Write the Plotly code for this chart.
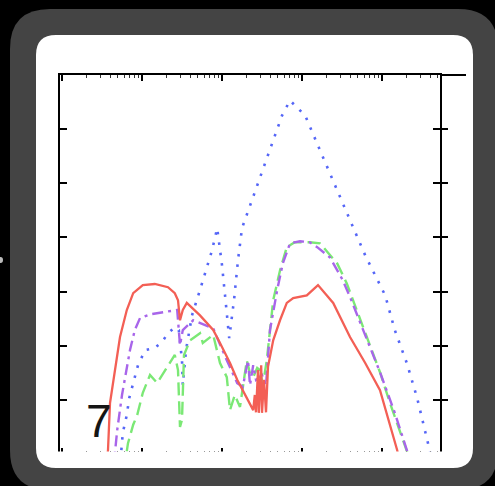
import numpy as np
import plotly.graph_objects as go

W, H = 495, 486

# ---- data (x in log10 units, y in axis units) ----
red_logx = [0.55, 0.575, 0.60, 0.66, 0.725, 0.81, 0.89, 1.01, 1.16, 1.325, 1.41, 1.45, 1.475, 1.51, 1.56,
            1.725, 1.89, 1.975, 2.10, 2.19, 2.31, 2.39, 2.41, 2.425, 2.45, 2.46, 2.49, 2.50, 2.525, 2.55,
            2.575, 2.64, 2.725, 2.81, 2.89, 3.06, 3.20, 3.39, 3.60, 3.79, 3.975, 4.19, 4.225]
red_y = [-0.30, 0.07, 0.94, 1.55, 2.16, 2.66, 2.97, 3.12, 3.14, 3.08, 2.97, 2.84, 2.47, 2.66, 2.79,
         2.56, 2.29, 2.05, 1.68, 1.37, 1.05, 0.81, 1.09, 0.77, 1.55, 0.76, 1.64, 0.76, 1.37, 0.77,
         1.61, 2.10, 2.47, 2.79, 2.88, 2.93, 3.12, 2.79, 2.16, 1.68, 1.18, 0.07, -0.20]

purple_logx = [0.64, 0.66, 0.69, 0.75, 0.80, 0.85, 0.91, 0.975, 1.10, 1.29, 1.44, 1.475, 1.51, 1.64, 1.89,
               2.06, 2.19, 2.26, 2.325, 2.35, 2.39, 2.425, 2.50, 2.55, 2.60, 2.69, 2.76, 2.85, 2.975,
               3.10, 3.19, 3.35, 3.51, 3.60, 3.79, 3.975, 4.16, 4.31, 4.35]
purple_y = [-0.30, 0.04, 0.44, 1.09, 1.49, 1.92, 2.29, 2.51, 2.58, 2.62, 2.66, 2.01, 2.29, 2.47, 2.32,
            1.73, 1.31, 1.24, 1.73, 1.27, 1.64, 1.37, 1.46, 1.27, 2.29, 3.03, 3.52, 3.89, 3.93,
            3.91, 3.82, 3.63, 3.21, 2.90, 2.20, 1.51, 0.76, 0.07, -0.11]

green_logx = [0.775, 0.825, 0.89, 0.94, 1.01, 1.10, 1.19, 1.31, 1.41, 1.45, 1.475, 1.50, 1.525, 1.60,
              1.725, 1.76, 1.89, 1.975, 2.06, 2.10, 2.16, 2.225, 2.26, 2.31, 2.35, 2.39, 2.44, 2.475,
              2.51, 2.56, 2.64, 2.725, 2.81, 2.91, 3.10, 3.225, 3.44, 3.56, 3.60, 3.79, 3.975, 4.10,
              4.31, 4.35]
green_y = [-0.30, 0.20, 0.54, 0.72, 1.13, 1.46, 1.31, 1.59, 1.83, 1.55, 0.50, 0.63, 1.83, 2.10,
           2.23, 2.05, 2.20, 1.68, 1.42, 0.81, 1.09, 0.87, 1.24, 1.73, 1.49, 1.42, 1.59, 1.55,
           1.27, 1.73, 2.84, 3.39, 3.82, 3.91, 3.91, 3.89, 3.52, 3.15, 2.99, 2.25, 1.51, 0.94,
           0.04, -0.11]

blue_logx = [0.70, 0.74, 0.76, 0.81, 0.84, 0.89, 0.95, 1.04, 1.16, 1.25, 1.325, 1.41, 1.46, 1.50, 1.51,
             1.55, 1.625, 1.725, 1.81, 1.875, 1.94, 2.00, 2.05, 2.09, 2.15, 2.20, 2.25, 2.375, 2.525,
             2.65, 2.75, 2.85, 3.04, 3.225, 3.41, 3.60, 3.79, 4.04, 4.16, 4.31, 4.44, 4.55, 4.60, 4.625]
blue_y = [-0.11, 0.04, 0.39, 0.72, 1.03, 1.33, 1.64, 1.92, 1.96, 2.07, 2.23, 2.34, 2.29, 1.73, 1.27,
          1.92, 2.56, 3.03, 3.43, 3.76, 4.17, 3.49, 2.75, 2.14, 2.84, 3.58, 4.17, 4.69, 5.33,
          5.83, 6.25, 6.53, 6.25, 5.61, 4.96, 4.32, 3.67, 2.93, 2.29, 1.68, 1.03, 0.39, 0.07, -0.11]

panel_label = "7"
y_ticks = [0, 1, 2, 3, 4, 5, 6, 7]

# ---- helpers for pixel -> paper (margins are zero) ----
def px(x):
    return x / W

def py(y):
    return 1 - y / H

def rrect(x0, y0, x1, y1, r):
    pts = [
        f"M {px(x0 + r)},{py(y0)}",
        f"L {px(x1 - r)},{py(y0)}",
        f"Q {px(x1)},{py(y0)} {px(x1)},{py(y0 + r)}",
        f"L {px(x1)},{py(y1 - r)}",
        f"Q {px(x1)},{py(y1)} {px(x1 - r)},{py(y1)}",
        f"L {px(x0 + r)},{py(y1)}",
        f"Q {px(x0)},{py(y1)} {px(x0)},{py(y1 - r)}",
        f"L {px(x0)},{py(y0 + r)}",
        f"Q {px(x0)},{py(y0)} {px(x0 + r)},{py(y0)}",
        "Z",
    ]
    return " ".join(pts)

fig = go.Figure()

def add_line(lx, y, color, dash, width=2.2):
    fig.add_trace(go.Scatter(
        x=np.power(10.0, lx), y=y, mode="lines",
        line=dict(color=color, dash=dash, width=width),
        hoverinfo="skip", showlegend=False,
    ))

add_line(blue_logx, blue_y, "#5566f7", "2.5px,8px", 2.6)
add_line(green_logx, green_y, "#7be875", "13px,6px", 2.4)
add_line(purple_logx, purple_y, "#a865ea", "11px,5px,3px,5px", 2.4)
add_line(red_logx, red_y, "#f35f55", "solid", 2.3)

# invisible trace for right-side tick axis
fig.add_trace(go.Scatter(x=[10], y=[None], yaxis="y2", mode="lines", showlegend=False, hoverinfo="skip"))

xdom = [px(60), px(440)]
ydom = [py(454), py(75)]

fig.update_layout(
    width=W, height=H,
    margin=dict(l=0, r=0, t=0, b=0),
    paper_bgcolor="#000000",
    plot_bgcolor="rgba(0,0,0,0)",
    showlegend=False,
    xaxis=dict(
        type="log", range=[-0.025, 4.725], domain=xdom,
        showline=True, linecolor="black", linewidth=2, mirror="ticks",
        ticks="inside", ticklen=6, tickwidth=1.5, tickcolor="black", dtick=1,
        minor=dict(ticks="inside", ticklen=3, tickwidth=1, tickcolor="#333", showgrid=False),
        showticklabels=False, showgrid=False, zeroline=False,
    ),
    yaxis=dict(
        range=[0, 7], domain=ydom,
        showline=True, linecolor="black", linewidth=2, mirror="ticks",
        ticks="inside", ticklen=7, tickwidth=1.5, tickcolor="black", tickvals=y_ticks,
        showticklabels=False, showgrid=False, zeroline=False,
    ),
    yaxis2=dict(
        range=[0, 7], overlaying="y", side="right", anchor="x",
        ticks="outside", ticklen=7, tickwidth=1.5, tickcolor="black", tickvals=y_ticks,
        showline=False, showticklabels=False, showgrid=False, zeroline=False,
    ),
    shapes=[
        dict(type="path", xref="paper", yref="paper", path=rrect(10, 9, 498, 490, 40),
             fillcolor="#444444", line=dict(width=0), layer="below"),
        dict(type="path", xref="paper", yref="paper", path=rrect(36, 35, 473, 468, 20),
             fillcolor="#ffffff", line=dict(width=0), layer="below"),
        # crop of the plot at the bottom
        dict(type="rect", xref="paper", yref="paper", x0=px(50), x1=px(458), y0=py(463), y1=py(451.5),
             fillcolor="#ffffff", line=dict(width=0), layer="above"),
        # continuation of top spine into neighbouring panel
        dict(type="line", xref="paper", yref="paper", x0=px(440), x1=px(466), y0=py(75), y1=py(75),
             line=dict(color="black", width=2), layer="above"),
        dict(type="circle", xref="paper", yref="paper", x0=px(-2), x1=px(3), y0=py(263), y1=py(257),
             fillcolor="#bbbbbb", line=dict(width=0), layer="above"),
    ],
    annotations=[
        dict(text=panel_label, xref="paper", yref="paper", x=px(99), y=py(421),
             xanchor="center", yanchor="middle", showarrow=False,
             font=dict(family="Liberation Sans", size=46, color="#151515")),
    ],
)

fig.write_html(
    "out.html",
    config={"displayModeBar": False},
    post_script="document.body.style.margin='0';document.body.style.background='#000';",
)
